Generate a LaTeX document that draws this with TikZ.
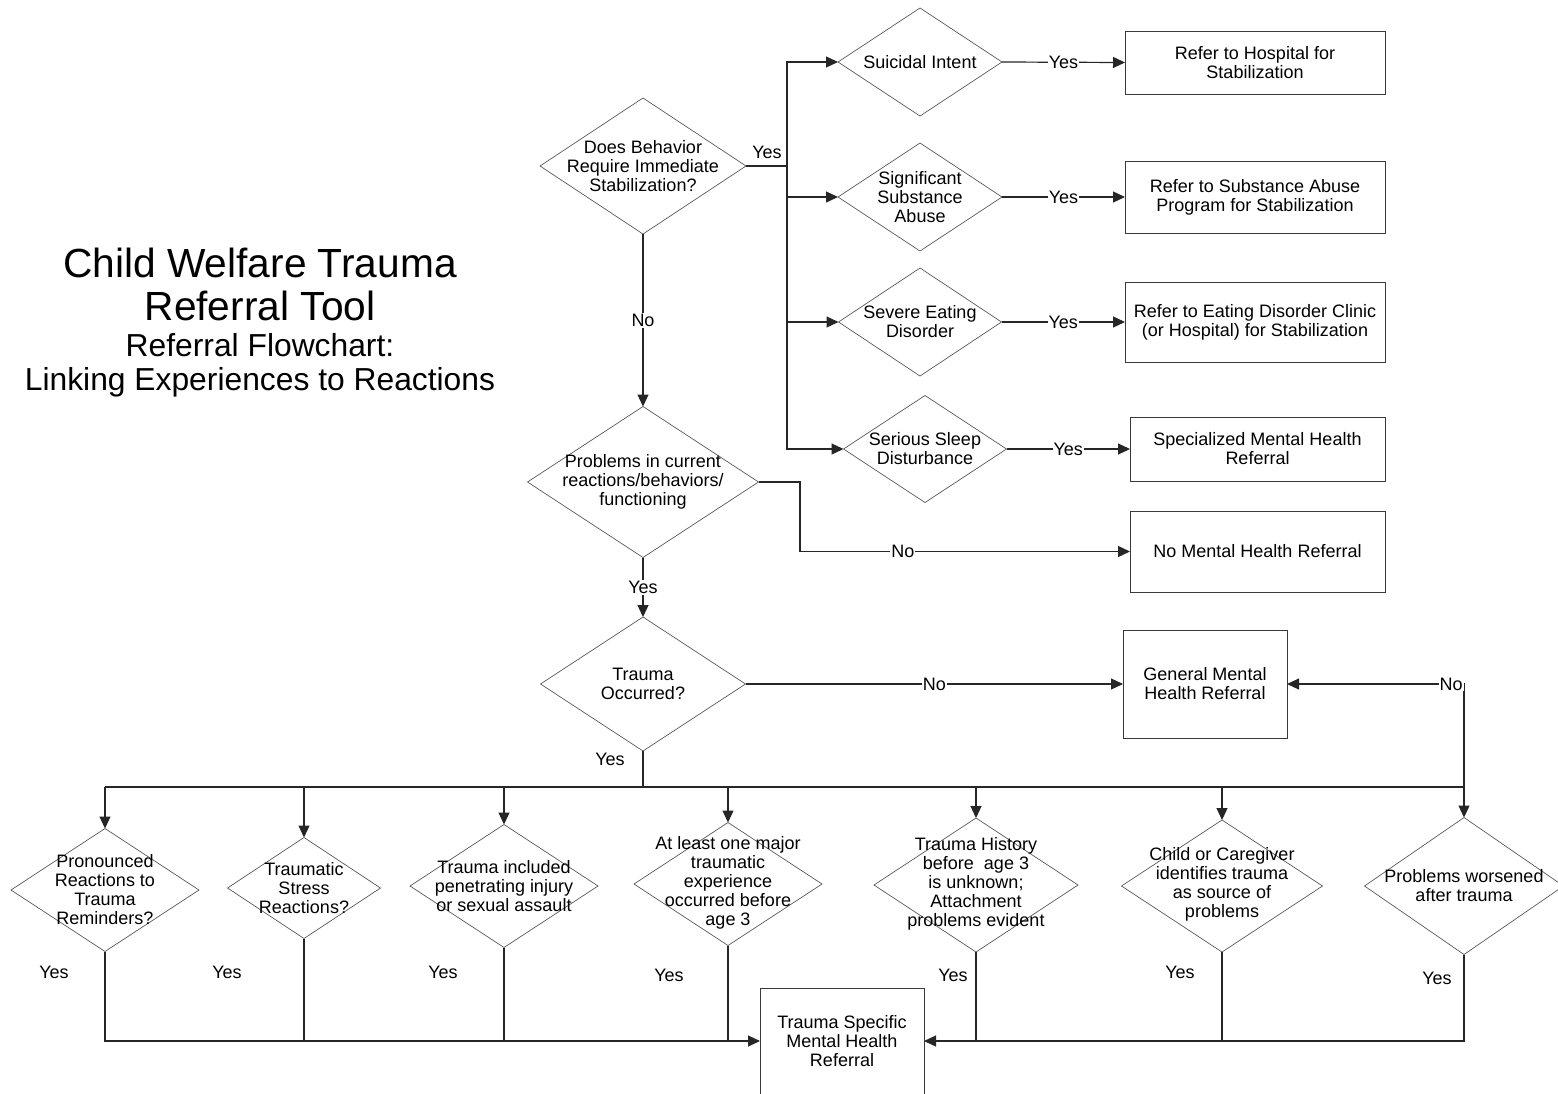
\documentclass[tikz,border=0pt]{standalone}
\usepackage{fontspec}
\setmainfont{Liberation Sans}
\usetikzlibrary{shapes.geometric,arrows.meta}
\definecolor{lc}{HTML}{262626}
\definecolor{dg}{HTML}{5A5A5A}
\definecolor{bg}{HTML}{3A3A3A}
\begin{document}
\begin{tikzpicture}[x=1pt,y=-1pt,
  conn/.style={draw=lc, line width=1.2pt},
  arr/.style={conn, -{Triangle[length=12pt,width=11pt]}},
  txt/.style={align=center, inner sep=0pt, font=\fontsize{18pt}{19pt}\selectfont, text=black},
  lbl/.style={fill=white, inner sep=1pt, font=\fontsize{18pt}{19pt}\selectfont, text=black},
  dia/.style={shape=diamond, draw=dg, line width=0.7pt, inner sep=0pt, outer sep=0pt},
  boxst/.style={draw=bg, line width=1pt, align=center, inner sep=0pt, outer sep=0pt, font=\fontsize{18pt}{19pt}\selectfont, text=black},
]
\clip (0,0) rectangle (1558,1093);
\fill[white] (0,0) rectangle (1558,1093);

% titles
\node[align=center, inner sep=0pt, font=\fontsize{40.7pt}{43pt}\selectfont] (t1) at (260,284.5) {Child Welfare Trauma\\Referral Tool};
\node[align=center, inner sep=0pt, font=\fontsize{31.8pt}{34pt}\selectfont] (t2) at (260,365) {Referral Flowchart:\\Linking Experiences to Reactions};

% diamonds (upper)
\node[dia, minimum width=206pt, minimum height=136pt] (d1) at (643,166) {};
\node[txt] at (d1) {Does Behavior\\Require Immediate\\Stabilization?};
\node[dia, minimum width=164pt, minimum height=108pt] (s1) at (920,62) {};
\node[txt] at (s1) {Suicidal Intent};
\node[dia, minimum width=164pt, minimum height=108pt] (s2) at (920,197) {};
\node[txt] at (s2) {Significant\\Substance\\Abuse};
\node[dia, minimum width=163pt, minimum height=108pt] (s3) at (920,322) {};
\node[txt] at (s3) {Severe Eating\\Disorder};
\node[dia, minimum width=163pt, minimum height=107pt] (s4) at (925,449) {};
\node[txt] at (s4) {Serious Sleep\\Disturbance};
\node[dia, minimum width=231pt, minimum height=151pt] (d2) at (643,482) {};
\node[txt] at (d2) {Problems in current\\reactions/behaviors/\\functioning};
\node[dia, minimum width=205pt, minimum height=134pt] (d3) at (643,684) {};
\node[txt] at (d3) {Trauma\\Occurred?};

% boxes
\node[boxst, minimum width=260pt, minimum height=63pt] (r1) at (1255,62.5) {Refer to Hospital for\\Stabilization};
\node[boxst, minimum width=260pt, minimum height=72pt] (r2) at (1255,197) {Refer to Substance Abuse\\Program for Stabilization};
\node[boxst, minimum width=260pt, minimum height=80pt] (r3) at (1255,322) {Refer to Eating Disorder Clinic\\(or Hospital) for Stabilization};
\node[boxst, minimum width=255pt, minimum height=64pt] (r4) at (1257.5,449) {Specialized Mental Health\\Referral};
\node[boxst, minimum width=255pt, minimum height=81pt] (r5) at (1257.5,551.5) {No Mental Health Referral};
\node[boxst, minimum width=164pt, minimum height=108pt] (gm) at (1205,684) {General Mental\\Health Referral};
\node[boxst, minimum width=164pt, minimum height=106pt] (ts) at (842,1041) {Trauma Specific\\Mental Health\\Referral};

% bottom diamonds
\node[dia, minimum width=188pt, minimum height=123pt] (b1) at (105,890) {};
\node[txt] at (b1) {Pronounced\\Reactions to\\Trauma\\Reminders?};
\node[dia, minimum width=153pt, minimum height=101pt] (b2) at (304,888) {};
\node[txt] at (b2) {Traumatic\\Stress\\Reactions?};
\node[dia, minimum width=188pt, minimum height=123pt] (b3) at (504,886) {};
\node[txt] at (b3) {Trauma included\\penetrating injury\\or sexual assault};
\node[dia, minimum width=188pt, minimum height=123pt] (b4) at (728,884) {};
\node[txt] at (728,882.5) {At least one major\\traumatic\\experience\\occurred before\\age 3};
\node[dia, minimum width=204pt, minimum height=134pt] (b5) at (976,885) {};
\node[txt] at (976,884) {Trauma History\\before\ \ age 3\\is unknown;\\Attachment\\problems evident};
\node[dia, minimum width=201pt, minimum height=132pt] (b6) at (1222,886) {};
\node[txt] at (1222,884.5) {Child or Caregiver\\identifies trauma\\as source of\\problems};
\node[dia, minimum width=199pt, minimum height=137pt] (b7) at (1464,886) {};
\node[txt] at (1464,885.5) {Problems worsened\\after trauma};

% coordinates
\coordinate (bx) at (787,166);
\coordinate (d2r) at (800,482);
\coordinate (tb) at (643,787);
\coordinate (bl) at (105,787);
\coordinate (br) at (1464,787);
\coordinate (nr) at (1464,684);

% upper connectors
\draw[conn] (d1.east) -- (bx);
\node[lbl, fill=none] at (767,152) {Yes};
\draw[arr] (bx) |- (s1.west);
\draw[arr] (bx) |- (s2.west);
\draw[arr] (bx) |- (s3.west);
\draw[arr] (bx) |- (s4.west);
\draw[arr] (s1.east) -- node[lbl] {Yes} (r1.west);
\draw[arr] (s2.east) -- node[lbl] {Yes} (r2.west);
\draw[arr] (s3.east) -- node[lbl] {Yes} (r3.west);
\draw[arr] (s4.east) -- node[lbl] {Yes} (r4.west);
\draw[arr] (d1.south) -- node[lbl] {No} (d2.north);
\draw[arr] (d2.east) -- (d2r) |- node[lbl, pos=0.656] {No} (r5.west);
\draw[arr] (d2.south) -- node[lbl] {Yes} (d3.north);
\draw[arr] (d3.east) -- node[lbl] {No} (gm.west);

% bus to bottom diamonds
\draw[conn] (d3.south) -- (tb);
\node[lbl, fill=none] at (610,759) {Yes};
\draw[conn] (bl) -- (br);
\draw[arr] (bl) -- (b1.north);
\draw[arr] (b2.north |- tb) -- (b2.north);
\draw[arr] (b3.north |- tb) -- (b3.north);
\draw[arr] (b4.north |- tb) -- (b4.north);
\draw[arr] (b5.north |- tb) -- (b5.north);
\draw[arr] (b6.north |- tb) -- (b6.north);
\draw[arr] (br) -- (b7.north);
\draw[arr] (br) -- (nr) -- (gm.east);
\node[lbl] at (1451,684) {No};

% bottom connectors
\draw[arr] (b1.south) |- (ts.west);
\draw[conn] (b2.south) -- (b2.south |- ts.west);
\draw[conn] (b3.south) -- (b3.south |- ts.west);
\draw[conn] (b4.south) -- (b4.south |- ts.west);
\draw[arr] (b7.south) |- (ts.east);
\draw[conn] (b5.south) -- (b5.south |- ts.east);
\draw[conn] (b6.south) -- (b6.south |- ts.east);

% yes labels
\node[txt] at (54,972) {Yes};
\node[txt] at (227,972) {Yes};
\node[txt] at (443,972) {Yes};
\node[txt] at (669,975) {Yes};
\node[txt] at (953,975) {Yes};
\node[txt] at (1180,972) {Yes};
\node[txt] at (1437,978) {Yes};
\end{tikzpicture}
\end{document}
